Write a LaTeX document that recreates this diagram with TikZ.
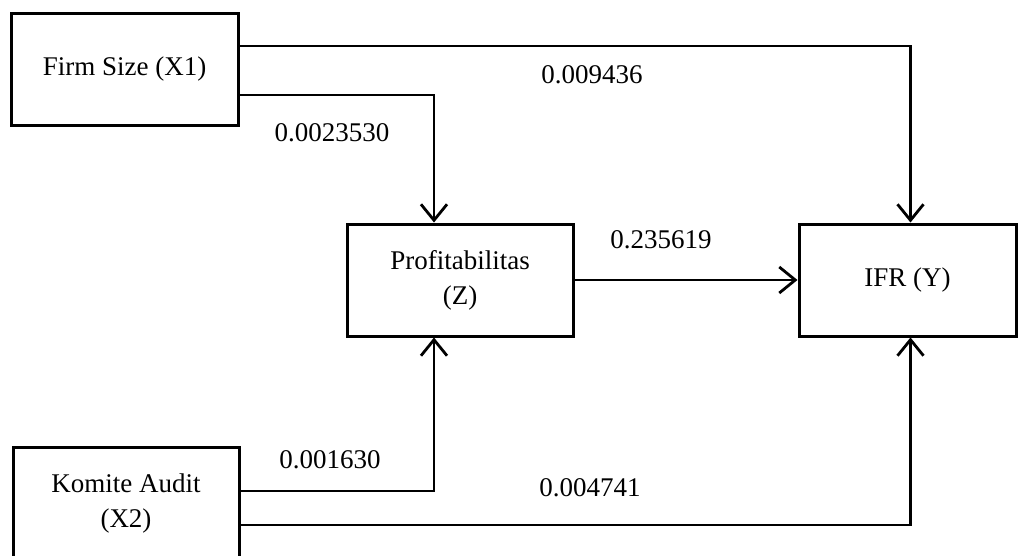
\documentclass[tikz,border=0pt]{standalone}
\usepackage{fontspec}
\setmainfont{Liberation Serif}
\usetikzlibrary{arrows.meta}
\begin{document}
\begin{tikzpicture}[x=1pt,y=-1pt,
  box/.style={draw, line width=3pt, minimum height=112pt, align=center, inner sep=0pt,
    font=\fontsize{27}{35}\selectfont},
  lbl/.style={font=\fontsize{27}{32}\selectfont, inner sep=0pt},
  arr/.style={line width=2.8pt, -{Straight Barb[length=16pt,width=26pt,line width=2.8pt]}},
  ln/.style={line width=2.8pt}]
\useasboundingbox (0,0) rectangle (1018,555);
\node[box, minimum width=227pt] (firm) at (124.5,69) {Firm Size (X1)};
\node[box, minimum width=226pt] (prof) at (460,280) {Profitabilitas\\(Z)};
\node[box, minimum width=217pt] (ifr) at (907.5,280) {IFR (Y)};
\node[box, minimum width=226pt] (kom) at (126,503) {Komite Audit\\(X2)};
\draw[arr] ([yshift=23pt]firm.east) -| ([xshift=3pt]ifr.north);
\draw[arr] ([yshift=-26pt]firm.east) -| ([xshift=-26pt]prof.north);
\draw[arr] (prof.east) -- (ifr.west);
\draw[arr] ([yshift=12pt]kom.east) -| ([xshift=-26pt]prof.south);
\draw[arr] ([yshift=-22pt]kom.east) -| ([xshift=3pt]ifr.south);
\node[lbl] (l1) at (592,75) {0.009436};
\node[lbl] (l2) at (332,133) {0.0023530};
\node[lbl] (l3) at (661,240) {0.235619};
\node[lbl] (l4) at (330,460) {0.001630};
\node[lbl] (l5) at (590,488) {0.004741};
\end{tikzpicture}
\end{document}
